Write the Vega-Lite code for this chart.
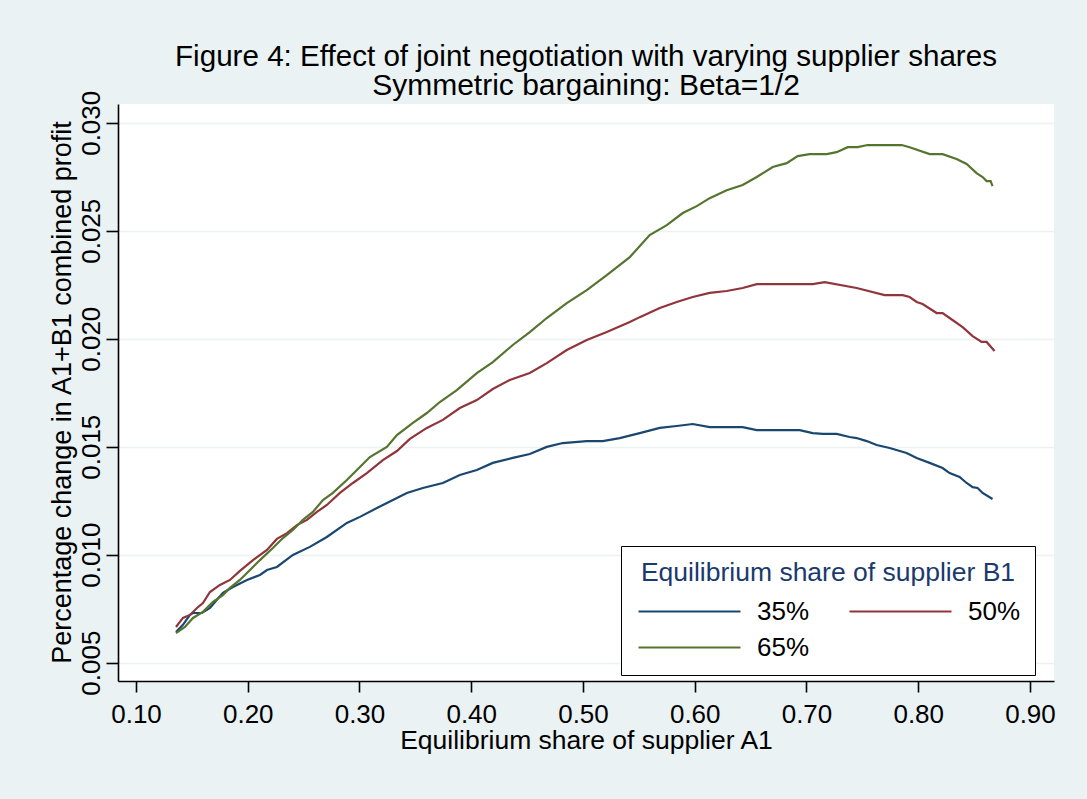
{
  "$schema": "https://vega.github.io/schema/vega-lite/v6.json",
  "width": 936,
  "height": 577,
  "autosize": {"type": "none"},
  "padding": {"left": 118, "top": 104, "right": 33, "bottom": 118},
  "background": "#EAF2F3",
  "title": {
    "text": "Figure 4: Effect of joint negotiation with varying supplier shares",
    "subtitle": "Symmetric bargaining: Beta=1/2",
    "anchor": "middle",
    "frame": "group",
    "font": "Liberation Sans",
    "fontSize": 29.6,
    "fontWeight": "normal",
    "color": "#000000",
    "subtitleFont": "Liberation Sans",
    "subtitleFontSize": 30,
    "subtitleColor": "#000000",
    "subtitlePadding": -1.5,
    "offset": -12
  },
  "config": {
    "view": {"fill": "#FFFFFF", "stroke": null},
    "font": "Liberation Sans"
  },
  "data": {
    "values": [
      {"x": 0.1358, "y": 0.00642, "s": "35%"},
      {"x": 0.1420, "y": 0.00675, "s": "35%"},
      {"x": 0.1483, "y": 0.00721, "s": "35%"},
      {"x": 0.1510, "y": 0.00730, "s": "35%"},
      {"x": 0.1590, "y": 0.00730, "s": "35%"},
      {"x": 0.1662, "y": 0.00753, "s": "35%"},
      {"x": 0.1707, "y": 0.00781, "s": "35%"},
      {"x": 0.1778, "y": 0.00823, "s": "35%"},
      {"x": 0.1868, "y": 0.00850, "s": "35%"},
      {"x": 0.1993, "y": 0.00883, "s": "35%"},
      {"x": 0.2109, "y": 0.00906, "s": "35%"},
      {"x": 0.2172, "y": 0.00929, "s": "35%"},
      {"x": 0.2261, "y": 0.00943, "s": "35%"},
      {"x": 0.2404, "y": 0.00999, "s": "35%"},
      {"x": 0.2556, "y": 0.01036, "s": "35%"},
      {"x": 0.2708, "y": 0.01082, "s": "35%"},
      {"x": 0.2887, "y": 0.01147, "s": "35%"},
      {"x": 0.3004, "y": 0.01175, "s": "35%"},
      {"x": 0.3156, "y": 0.01216, "s": "35%"},
      {"x": 0.3299, "y": 0.01253, "s": "35%"},
      {"x": 0.3424, "y": 0.01286, "s": "35%"},
      {"x": 0.3567, "y": 0.01309, "s": "35%"},
      {"x": 0.3746, "y": 0.01332, "s": "35%"},
      {"x": 0.3898, "y": 0.01369, "s": "35%"},
      {"x": 0.4050, "y": 0.01392, "s": "35%"},
      {"x": 0.4193, "y": 0.01425, "s": "35%"},
      {"x": 0.4372, "y": 0.01448, "s": "35%"},
      {"x": 0.4524, "y": 0.01466, "s": "35%"},
      {"x": 0.4676, "y": 0.01499, "s": "35%"},
      {"x": 0.4819, "y": 0.01517, "s": "35%"},
      {"x": 0.5034, "y": 0.01526, "s": "35%"},
      {"x": 0.5177, "y": 0.01526, "s": "35%"},
      {"x": 0.5329, "y": 0.01540, "s": "35%"},
      {"x": 0.5508, "y": 0.01563, "s": "35%"},
      {"x": 0.5687, "y": 0.01587, "s": "35%"},
      {"x": 0.5839, "y": 0.01596, "s": "35%"},
      {"x": 0.5982, "y": 0.01605, "s": "35%"},
      {"x": 0.6134, "y": 0.01591, "s": "35%"},
      {"x": 0.6429, "y": 0.01591, "s": "35%"},
      {"x": 0.6555, "y": 0.01577, "s": "35%"},
      {"x": 0.6939, "y": 0.01577, "s": "35%"},
      {"x": 0.7056, "y": 0.01563, "s": "35%"},
      {"x": 0.7145, "y": 0.01559, "s": "35%"},
      {"x": 0.7270, "y": 0.01559, "s": "35%"},
      {"x": 0.7386, "y": 0.01545, "s": "35%"},
      {"x": 0.7449, "y": 0.01540, "s": "35%"},
      {"x": 0.7539, "y": 0.01526, "s": "35%"},
      {"x": 0.7628, "y": 0.01508, "s": "35%"},
      {"x": 0.7744, "y": 0.01494, "s": "35%"},
      {"x": 0.7896, "y": 0.01471, "s": "35%"},
      {"x": 0.7986, "y": 0.01448, "s": "35%"},
      {"x": 0.8102, "y": 0.01425, "s": "35%"},
      {"x": 0.8218, "y": 0.01401, "s": "35%"},
      {"x": 0.8281, "y": 0.01378, "s": "35%"},
      {"x": 0.8370, "y": 0.01360, "s": "35%"},
      {"x": 0.8433, "y": 0.01332, "s": "35%"},
      {"x": 0.8487, "y": 0.01313, "s": "35%"},
      {"x": 0.8531, "y": 0.01309, "s": "35%"},
      {"x": 0.8576, "y": 0.01286, "s": "35%"},
      {"x": 0.8665, "y": 0.01258, "s": "35%"},

      {"x": 0.1358, "y": 0.00665, "s": "50%"},
      {"x": 0.1420, "y": 0.00707, "s": "50%"},
      {"x": 0.1483, "y": 0.00721, "s": "50%"},
      {"x": 0.1546, "y": 0.00753, "s": "50%"},
      {"x": 0.1599, "y": 0.00776, "s": "50%"},
      {"x": 0.1662, "y": 0.00827, "s": "50%"},
      {"x": 0.1751, "y": 0.00860, "s": "50%"},
      {"x": 0.1841, "y": 0.00883, "s": "50%"},
      {"x": 0.1930, "y": 0.00925, "s": "50%"},
      {"x": 0.2047, "y": 0.00975, "s": "50%"},
      {"x": 0.2172, "y": 0.01022, "s": "50%"},
      {"x": 0.2261, "y": 0.01073, "s": "50%"},
      {"x": 0.2351, "y": 0.01100, "s": "50%"},
      {"x": 0.2440, "y": 0.01137, "s": "50%"},
      {"x": 0.2530, "y": 0.01161, "s": "50%"},
      {"x": 0.2619, "y": 0.01198, "s": "50%"},
      {"x": 0.2708, "y": 0.01230, "s": "50%"},
      {"x": 0.2825, "y": 0.01286, "s": "50%"},
      {"x": 0.2941, "y": 0.01332, "s": "50%"},
      {"x": 0.3066, "y": 0.01378, "s": "50%"},
      {"x": 0.3209, "y": 0.01438, "s": "50%"},
      {"x": 0.3335, "y": 0.01480, "s": "50%"},
      {"x": 0.3451, "y": 0.01536, "s": "50%"},
      {"x": 0.3603, "y": 0.01587, "s": "50%"},
      {"x": 0.3746, "y": 0.01624, "s": "50%"},
      {"x": 0.3898, "y": 0.01679, "s": "50%"},
      {"x": 0.4050, "y": 0.01716, "s": "50%"},
      {"x": 0.4193, "y": 0.01767, "s": "50%"},
      {"x": 0.4345, "y": 0.01809, "s": "50%"},
      {"x": 0.4524, "y": 0.01841, "s": "50%"},
      {"x": 0.4676, "y": 0.01887, "s": "50%"},
      {"x": 0.4855, "y": 0.01948, "s": "50%"},
      {"x": 0.5034, "y": 0.01994, "s": "50%"},
      {"x": 0.5213, "y": 0.02031, "s": "50%"},
      {"x": 0.5419, "y": 0.02077, "s": "50%"},
      {"x": 0.5508, "y": 0.02100, "s": "50%"},
      {"x": 0.5687, "y": 0.02142, "s": "50%"},
      {"x": 0.5839, "y": 0.02170, "s": "50%"},
      {"x": 0.5982, "y": 0.02193, "s": "50%"},
      {"x": 0.6134, "y": 0.02212, "s": "50%"},
      {"x": 0.6286, "y": 0.02221, "s": "50%"},
      {"x": 0.6429, "y": 0.02235, "s": "50%"},
      {"x": 0.6555, "y": 0.02253, "s": "50%"},
      {"x": 0.7056, "y": 0.02253, "s": "50%"},
      {"x": 0.7163, "y": 0.02262, "s": "50%"},
      {"x": 0.7449, "y": 0.02235, "s": "50%"},
      {"x": 0.7699, "y": 0.02202, "s": "50%"},
      {"x": 0.7861, "y": 0.02202, "s": "50%"},
      {"x": 0.7923, "y": 0.02193, "s": "50%"},
      {"x": 0.7986, "y": 0.02170, "s": "50%"},
      {"x": 0.8039, "y": 0.02161, "s": "50%"},
      {"x": 0.8165, "y": 0.02119, "s": "50%"},
      {"x": 0.8218, "y": 0.02119, "s": "50%"},
      {"x": 0.8281, "y": 0.02096, "s": "50%"},
      {"x": 0.8397, "y": 0.02054, "s": "50%"},
      {"x": 0.8487, "y": 0.02012, "s": "50%"},
      {"x": 0.8567, "y": 0.01985, "s": "50%"},
      {"x": 0.8612, "y": 0.01985, "s": "50%"},
      {"x": 0.8683, "y": 0.01943, "s": "50%"},

      {"x": 0.1358, "y": 0.00637, "s": "65%"},
      {"x": 0.1438, "y": 0.00665, "s": "65%"},
      {"x": 0.1510, "y": 0.00707, "s": "65%"},
      {"x": 0.1599, "y": 0.00735, "s": "65%"},
      {"x": 0.1689, "y": 0.00781, "s": "65%"},
      {"x": 0.1778, "y": 0.00813, "s": "65%"},
      {"x": 0.1841, "y": 0.00846, "s": "65%"},
      {"x": 0.1930, "y": 0.00883, "s": "65%"},
      {"x": 0.2020, "y": 0.00929, "s": "65%"},
      {"x": 0.2109, "y": 0.00975, "s": "65%"},
      {"x": 0.2225, "y": 0.01031, "s": "65%"},
      {"x": 0.2315, "y": 0.01077, "s": "65%"},
      {"x": 0.2404, "y": 0.01114, "s": "65%"},
      {"x": 0.2494, "y": 0.01161, "s": "65%"},
      {"x": 0.2583, "y": 0.01198, "s": "65%"},
      {"x": 0.2673, "y": 0.01253, "s": "65%"},
      {"x": 0.2762, "y": 0.01286, "s": "65%"},
      {"x": 0.2887, "y": 0.01346, "s": "65%"},
      {"x": 0.3004, "y": 0.01406, "s": "65%"},
      {"x": 0.3093, "y": 0.01452, "s": "65%"},
      {"x": 0.3245, "y": 0.01499, "s": "65%"},
      {"x": 0.3335, "y": 0.01554, "s": "65%"},
      {"x": 0.3478, "y": 0.01610, "s": "65%"},
      {"x": 0.3603, "y": 0.01656, "s": "65%"},
      {"x": 0.3719, "y": 0.01707, "s": "65%"},
      {"x": 0.3871, "y": 0.01762, "s": "65%"},
      {"x": 0.4050, "y": 0.01841, "s": "65%"},
      {"x": 0.4193, "y": 0.01892, "s": "65%"},
      {"x": 0.4372, "y": 0.01971, "s": "65%"},
      {"x": 0.4524, "y": 0.02031, "s": "65%"},
      {"x": 0.4676, "y": 0.02096, "s": "65%"},
      {"x": 0.4855, "y": 0.02165, "s": "65%"},
      {"x": 0.5034, "y": 0.02225, "s": "65%"},
      {"x": 0.5213, "y": 0.02295, "s": "65%"},
      {"x": 0.5419, "y": 0.02378, "s": "65%"},
      {"x": 0.5597, "y": 0.02480, "s": "65%"},
      {"x": 0.5750, "y": 0.02526, "s": "65%"},
      {"x": 0.5893, "y": 0.02582, "s": "65%"},
      {"x": 0.6018, "y": 0.02614, "s": "65%"},
      {"x": 0.6134, "y": 0.02651, "s": "65%"},
      {"x": 0.6286, "y": 0.02688, "s": "65%"},
      {"x": 0.6429, "y": 0.02712, "s": "65%"},
      {"x": 0.6555, "y": 0.02749, "s": "65%"},
      {"x": 0.6698, "y": 0.02795, "s": "65%"},
      {"x": 0.6823, "y": 0.02813, "s": "65%"},
      {"x": 0.6921, "y": 0.02846, "s": "65%"},
      {"x": 0.7029, "y": 0.02855, "s": "65%"},
      {"x": 0.7181, "y": 0.02855, "s": "65%"},
      {"x": 0.7270, "y": 0.02864, "s": "65%"},
      {"x": 0.7369, "y": 0.02887, "s": "65%"},
      {"x": 0.7458, "y": 0.02887, "s": "65%"},
      {"x": 0.7547, "y": 0.02897, "s": "65%"},
      {"x": 0.7852, "y": 0.02897, "s": "65%"},
      {"x": 0.7923, "y": 0.02887, "s": "65%"},
      {"x": 0.8102, "y": 0.02855, "s": "65%"},
      {"x": 0.8218, "y": 0.02855, "s": "65%"},
      {"x": 0.8343, "y": 0.02832, "s": "65%"},
      {"x": 0.8433, "y": 0.02809, "s": "65%"},
      {"x": 0.8522, "y": 0.02767, "s": "65%"},
      {"x": 0.8576, "y": 0.02749, "s": "65%"},
      {"x": 0.8612, "y": 0.02730, "s": "65%"},
      {"x": 0.8648, "y": 0.02730, "s": "65%"},
      {"x": 0.8665, "y": 0.02707, "s": "65%"}
    ]
  },
  "mark": {"type": "line", "strokeWidth": 2.2, "interpolate": "linear"},
  "encoding": {
    "x": {
      "field": "x",
      "type": "quantitative",
      "scale": {"domain": [0.0839, 0.9215], "nice": false, "zero": false},
      "axis": {
        "title": "Equilibrium share of supplier A1",
        "values": [0.1, 0.2, 0.3, 0.4, 0.5, 0.6, 0.7, 0.8, 0.9],
        "format": ".2f",
        "grid": false,
        "domainColor": "#000000",
        "domainWidth": 1.6,
        "tickColor": "#000000",
        "tickWidth": 1.6,
        "tickSize": 11,
        "labelFont": "Liberation Sans",
        "labelFontSize": 26,
        "labelColor": "#000000",
        "labelBaseline": "alphabetic",
        "labelPadding": 30,
        "labelFlush": false,
        "labelOverlap": false,
        "titleFont": "Liberation Sans",
        "titleFontSize": 26.5,
        "titleFontWeight": "normal",
        "titleColor": "#000000",
        "titleBaseline": "alphabetic",
        "titleY": 67
      }
    },
    "y": {
      "field": "y",
      "type": "quantitative",
      "scale": {"domain": [0.00415, 0.03087], "nice": false, "zero": false},
      "axis": {
        "title": "Percentage change in A1+B1 combined profit",
        "values": [0.005, 0.01, 0.015, 0.02, 0.025, 0.03],
        "format": ".3f",
        "grid": true,
        "gridColor": "#EAF2F3",
        "gridWidth": 1.6,
        "domainColor": "#000000",
        "domainWidth": 1.6,
        "tickColor": "#000000",
        "tickWidth": 1.6,
        "tickSize": 12,
        "labelFont": "Liberation Sans",
        "labelFontSize": 26,
        "labelColor": "#000000",
        "labelAngle": -90,
        "labelAlign": "center",
        "labelBaseline": "alphabetic",
        "labelPadding": 7,
        "labelFlush": false,
        "labelOverlap": false,
        "titleFont": "Liberation Sans",
        "titleFontSize": 27,
        "titleFontWeight": "normal",
        "titleColor": "#000000",
        "titleAngle": -90,
        "titleAlign": "center",
        "titleBaseline": "alphabetic",
        "titleX": -48,
        "titleY": 288
      }
    },
    "color": {
      "field": "s",
      "type": "nominal",
      "scale": {"domain": ["35%", "50%", "65%"], "range": ["#1a476f", "#90353b", "#55752f"]},
      "legend": {
        "title": "Equilibrium share of supplier B1",
        "orient": "none",
        "legendX": 503,
        "legendY": 442,
        "direction": "horizontal",
        "columns": 2,
        "symbolType": "M-1.9,0H18.5",
        "symbolSize": 100,
        "symbolStrokeWidth": 2.2,
        "labelOffset": 96,
        "labelFont": "Liberation Sans",
        "labelFontSize": 26,
        "labelColor": "#000000",
        "titleFont": "Liberation Sans",
        "titleFontSize": 26.5,
        "titleFontWeight": "normal",
        "titleColor": "#1a3a6e",
        "titleAnchor": "middle",
        "titleLimit": 600,
        "titlePadding": 12,
        "padding": 14,
        "rowPadding": 10,
        "columnPadding": 35,
        "strokeColor": "#000000",
        "fillColor": "#FFFFFF"
      }
    }
  }
}
